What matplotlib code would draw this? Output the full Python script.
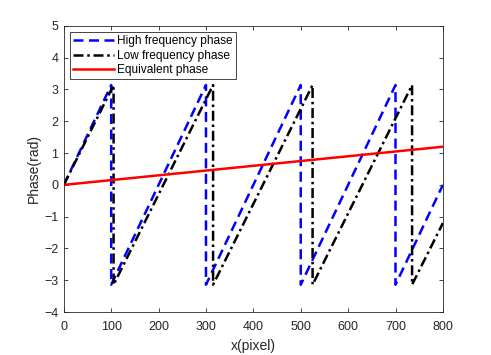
import numpy as np
import matplotlib
matplotlib.use("Agg")
import matplotlib.pyplot as plt

plt.rcParams['font.family'] = ['Liberation Sans', 'DejaVu Sans']

# --- Data ---
# high frequency phase: wraps at 100, 300, 500, 700
high_x = [0, 100, 100, 300, 300, 500, 500, 700, 700, 800]
high_y = [0, 3.14, -3.14, 3.14, -3.14, 3.14, -3.14, 3.14, -3.14, 0.0]
# low frequency phase: wraps at 105, 315, 525, 735
low_x = [0, 105, 105, 315, 315, 525, 525, 735, 735, 800]
low_y = [0, 3.14, -3.14, 3.14, -3.14, 3.14, -3.14, 3.14, -3.14, -1.2]
# equivalent phase
eq_x = [0, 800]
eq_y = [0, 1.2]

x_ticks = [0, 100, 200, 300, 400, 500, 600, 700, 800]
y_ticks = [-4, -3, -2, -1, 0, 1, 2, 3, 4, 5]

fig = plt.figure(figsize=(4.91, 3.55), dpi=100)
ax = fig.add_axes([0.130, 0.121, 0.772, 0.806])

ax.plot(high_x, high_y, color="#0000ff", lw=1.8, dashes=(4, 2.2),
        label="High frequency phase")
ax.plot(low_x, low_y, color="black", lw=1.8, dashes=(4, 1.5, 1, 1.5),
        label="Low frequency phase")
ax.plot(eq_x, eq_y, color="#ff0000", lw=1.8, label="Equivalent phase")

ax.set_xlim(0, 800)
ax.set_ylim(-4, 5)
ax.set_xticks(x_ticks)
ax.set_yticks(y_ticks)
ax.tick_params(direction="in", top=True, right=True, labelsize=9,
               length=3, width=0.6, color="#262626", labelcolor="#262626")
ax.tick_params(axis="x", pad=6.5)
ax.tick_params(axis="y", pad=4)
for s in ax.spines.values():
    s.set_linewidth(0.6)
    s.set_color("#262626")

ax.set_xlabel("x(pixel)", fontsize=10, color="#262626", labelpad=4)
ax.set_ylabel("Phase(rad)", fontsize=10, color="#262626", labelpad=2)

leg = ax.legend(loc="upper left", fontsize=8.6, fancybox=False, framealpha=1,
                edgecolor="#262626", borderpad=0.25, labelspacing=0.2,
                handlelength=3.4, handletextpad=0.25, borderaxespad=0.55)
leg.get_frame().set_linewidth(0.6)

fig.savefig("out.png", dpi=100)
